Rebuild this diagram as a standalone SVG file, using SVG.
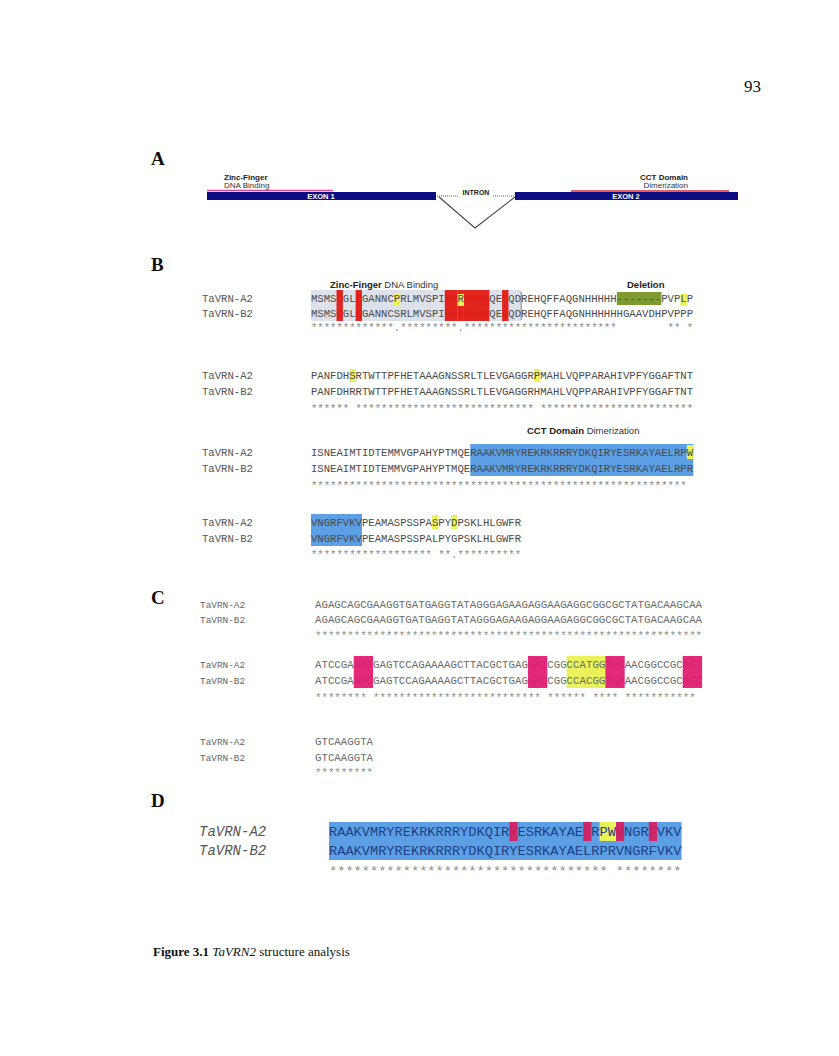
<svg xmlns="http://www.w3.org/2000/svg" width="839" height="1056" viewBox="0 0 839 1056">
<style>
.pl{font-family:"Liberation Serif",serif;font-weight:bold;font-size:19px;fill:#111}
.pg{font-family:"Liberation Serif",serif;font-size:17px;fill:#111}
.hb{font-family:"Liberation Sans",Arial,sans-serif;font-weight:bold;font-size:8px;fill:#222}
.hr{font-family:"Liberation Sans",Arial,sans-serif;font-size:8px;fill:#333}
.ex{font-family:"Liberation Sans",Arial,sans-serif;font-weight:bold;font-size:7.5px;fill:#fff}
.hb2{font-family:"Liberation Sans",Arial,sans-serif;font-weight:bold;font-size:9.5px;fill:#222}
.hr2{font-family:"Liberation Sans",Arial,sans-serif;font-size:9.5px;fill:#333}
.lab{font-family:"Liberation Mono",monospace;font-size:10.62px;fill:#555}
.seq{font-family:"Liberation Mono",monospace;font-size:10.62px;fill:#4a4a4a}
.cl{font-family:"Liberation Mono",monospace;font-size:9.4px;fill:#666}
.cs{font-family:"Liberation Mono",monospace;font-size:10.75px;fill:#6a6a6a}
.st{fill:#8a8a8a}
.dl{font-family:"Liberation Mono",monospace;font-style:italic;font-size:14px;fill:#555}
.ds{font-family:"Liberation Mono",monospace;font-size:13.67px;fill:#1f3f86}
.dst{font-family:"Liberation Mono",monospace;font-size:13.67px;fill:#8a8a8a}
.cap{font-family:"Liberation Serif",serif;font-size:13px;fill:#111}
.red{fill:#e3170f;fill-opacity:0.93}
.yel{fill:#e9f25a}
.blu{fill:#5c9fe4}
.pnk{fill:#e0186c;fill-opacity:0.92}
.dred{fill:#d81b5c;fill-opacity:0.9}
</style>

<text class="pg" x="744" y="92">93</text>

<g id="panelA">
  <text class="pl" x="151" y="165">A</text>
  <text class="hb" x="224" y="180">Zinc-Finger</text>
  <text class="hr" x="224" y="188">DNA Binding</text>
  <text class="hb" x="688" y="180" text-anchor="end">CCT Domain</text>
  <text class="hr" x="688" y="188" text-anchor="end">Dimerization</text>
  <line x1="207" y1="190.5" x2="333" y2="190.5" stroke="#e4468a" stroke-width="1.6"/>
  <line x1="571" y1="191" x2="729" y2="191" stroke="#e22a2a" stroke-width="1.6"/>
  <g id="exon1">
    <rect x="207" y="192" width="229" height="8" fill="#0c0c82"/>
    <text class="ex" x="321" y="198.8" text-anchor="middle">EXON 1</text>
  </g>
  <g id="exon2">
    <rect x="515" y="192" width="223" height="8" fill="#0c0c82"/>
    <text class="ex" x="626" y="198.8" text-anchor="middle">EXON 2</text>
  </g>
  <g id="intron">
    <line x1="437" y1="196" x2="459" y2="196" stroke="#333" stroke-width="0.8" stroke-dasharray="1,1"/>
    <line x1="493" y1="196" x2="514" y2="196" stroke="#333" stroke-width="0.8" stroke-dasharray="1,1"/>
    <text class="hb" x="476" y="195" text-anchor="middle" style="font-size:7px">INTRON</text>
    <polyline points="439,197 475,228 515,197" fill="none" stroke="#444" stroke-width="1.1"/>
  </g>
</g>

<g id="panelB">
  <text class="pl" x="151" y="271">B</text>
  <!-- block 1 -->
  <text x="330" y="288"><tspan class="hb2">Zinc-Finger</tspan><tspan class="hr2"> DNA Binding</tspan></text>
  <text class="hb2" x="627" y="288">Deletion</text>
  <rect x="311" y="290" width="210.2" height="31" fill="#dde2ea"/>
  <rect x="616.8" y="292" width="44.6" height="13" fill="#7e9a30"/>
  <rect class="yel" x="393.8" y="294" width="6.4" height="12"/>
  <rect class="yel" x="680.5" y="294" width="6.4" height="12"/>
  <rect class="yel" x="457.5" y="294" width="6.4" height="12"/>
  <text class="lab" x="202" y="301.5">TaVRN-A2</text>
  <text class="lab" x="202" y="316.5">TaVRN-B2</text>
  <text class="seq" x="311" y="301.5">MSMSCGLCGANNCPRLMVSPIHHRHHHHQECQDREHQFFAQGNHHHHH-------PVPLP</text>
  <text class="seq" x="311" y="316.5">MSMSCGLCGANNCSRLMVSPIHHHHHHHQECQDREHQFFAQGNHHHHHHGAAVDHPVPPP</text>
  <text class="seq st" x="311" y="331" xml:space="preserve">*************.*********.************************        ** *</text>
  <rect class="red" x="336.5" y="290" width="6.4" height="31"/>
  <rect class="red" x="355.6" y="290" width="6.4" height="31"/>
  <rect class="red" x="444.8" y="290" width="12.7" height="31"/>
  <rect class="red" x="457.5" y="290" width="6.4" height="4"/>
  <rect class="red" x="457.5" y="306" width="6.4" height="15"/>
  <rect class="red" x="463.9" y="290" width="25.5" height="31"/>
  <rect class="red" x="502.1" y="290" width="6.4" height="31"/>
  <line x1="521.2" y1="292" x2="521.2" y2="320" stroke="#666" stroke-width="0.8"/>

  <!-- block 2 -->
  <rect class="yel" x="349.2" y="369" width="6.4" height="13"/>
  <rect class="yel" x="534" y="369" width="6.4" height="13"/>
  <text class="lab" x="202" y="378.5">TaVRN-A2</text>
  <text class="lab" x="202" y="394.5">TaVRN-B2</text>
  <text class="seq" x="311" y="378.5">PANFDHSRTWTTPFHETAAAGNSSRLTLEVGAGGRPMAHLVQPPARAHIVPFYGGAFTNT</text>
  <text class="seq" x="311" y="394.5">PANFDHRRTWTTPFHETAAAGNSSRLTLEVGAGGRHMAHLVQPPARAHIVPFYGGAFTNT</text>
  <text class="seq st" x="311" y="412" xml:space="preserve">****** **************************** ************************</text>

  <!-- block 3 -->
  <text x="527" y="434"><tspan class="hb2">CCT Domain</tspan><tspan class="hr2"> Dimerization</tspan></text>
  <rect class="blu" x="470.3" y="444" width="223" height="32"/>
  <rect class="yel" x="686.8" y="445" width="6.4" height="14"/>
  <text class="lab" x="202" y="455.5">TaVRN-A2</text>
  <text class="lab" x="202" y="471.5">TaVRN-B2</text>
  <text class="seq" x="311" y="455.5">ISNEAIMTIDTEMMVGPAHYPTMQERAAKVMRYREKRKRRRYDKQIRYESRKAYAELRPW</text>
  <text class="seq" x="311" y="471.5">ISNEAIMTIDTEMMVGPAHYPTMQERAAKVMRYREKRKRRRYDKQIRYESRKAYAELRPR</text>
  <text class="seq st" x="311" y="489" xml:space="preserve">*********************************************************** </text>

  <!-- block 4 -->
  <rect class="blu" x="311" y="514" width="51" height="32"/>
  <rect class="yel" x="432" y="515" width="6.4" height="14"/>
  <rect class="yel" x="451.1" y="515" width="6.4" height="14"/>
  <text class="lab" x="202" y="525.5">TaVRN-A2</text>
  <text class="lab" x="202" y="541.5">TaVRN-B2</text>
  <text class="seq" x="311" y="525.5">VNGRFVKVPEAMASPSSPASPYDPSKLHLGWFR</text>
  <text class="seq" x="311" y="541.5">VNGRFVKVPEAMASPSSPALPYGPSKLHLGWFR</text>
  <text class="seq st" x="311" y="558" xml:space="preserve">******************* **.**********</text>
</g>

<g id="panelC">
  <text class="pl" x="151" y="604">C</text>
  <text class="cl" x="200" y="607.5">TaVRN-A2</text>
  <text class="cl" x="200" y="622.5">TaVRN-B2</text>
  <text class="cs" x="315" y="607.5">AGAGCAGCGAAGGTGATGAGGTATAGGGAGAAGAGGAAGAGGCGGCGCTATGACAAGCAA</text>
  <text class="cs" x="315" y="622.5">AGAGCAGCGAAGGTGATGAGGTATAGGGAGAAGAGGAAGAGGCGGCGCTATGACAAGCAA</text>
  <text class="cs st" x="315" y="639">************************************************************</text>

  <rect class="yel" x="566.6" y="656" width="38.7" height="32"/>
  <text class="cl" x="200" y="667.5">TaVRN-A2</text>
  <text class="cl" x="200" y="683.5">TaVRN-B2</text>
  <text class="cs" x="315" y="667.5">ATCCGAAATGAGTCCAGAAAAGCTTACGCTGAGGATCGGCCATGGTGCAACGGCCGCGGT</text>
  <text class="cs" x="315" y="683.5">ATCCGAAACGAGTCCAGAAAAGCTTACGCTGAGGACCGGCCACGGTGAAACGGCCGCGGC</text>
  <text class="cs st" x="315" y="701" xml:space="preserve">******** ************************** ****** **** *********** </text>
  <rect class="pnk" x="353.7" y="656" width="19.4" height="32"/>
  <rect class="pnk" x="527.9" y="656" width="19.4" height="32"/>
  <rect class="pnk" x="605.3" y="656" width="19.4" height="32"/>
  <rect class="pnk" x="682.7" y="656" width="19.4" height="32"/>

  <text class="cl" x="200" y="744.5">TaVRN-A2</text>
  <text class="cl" x="200" y="760.5">TaVRN-B2</text>
  <text class="cs" x="315" y="744.5">GTCAAGGTA</text>
  <text class="cs" x="315" y="760.5">GTCAAGGTA</text>
  <text class="cs st" x="315" y="776">*********</text>
</g>

<g id="panelD">
  <text class="pl" x="151" y="807">D</text>
  <rect class="blu" x="329" y="822" width="352.6" height="38"/>
  <rect class="yel" x="599.6" y="822" width="16.4" height="19"/>
  <text class="dl" x="199" y="836">TaVRN-A2</text>
  <text class="dl" x="199" y="855">TaVRN-B2</text>
  <text class="ds" x="329" y="836">RAAKVMRYREKRKRRRYDKQIRYESRKAYAELRPWVNGRFVKV</text>
  <text class="ds" x="329" y="855">RAAKVMRYREKRKRRRYDKQIRYESRKAYAELRPRVNGRFVKV</text>
  <text class="dst" x="329" y="875" xml:space="preserve">********************************** ********</text>
  <rect class="dred" x="509.4" y="822" width="8.2" height="19"/>
  <rect class="dred" x="583.2" y="822" width="8.2" height="19"/>
  <rect class="dred" x="616" y="822" width="8.2" height="19"/>
  <rect class="dred" x="648.8" y="822" width="8.2" height="19"/>
</g>

<text class="cap" x="153" y="956"><tspan font-weight="bold">Figure 3.1 </tspan><tspan font-style="italic">TaVRN2</tspan> structure analysis</text>
</svg>
